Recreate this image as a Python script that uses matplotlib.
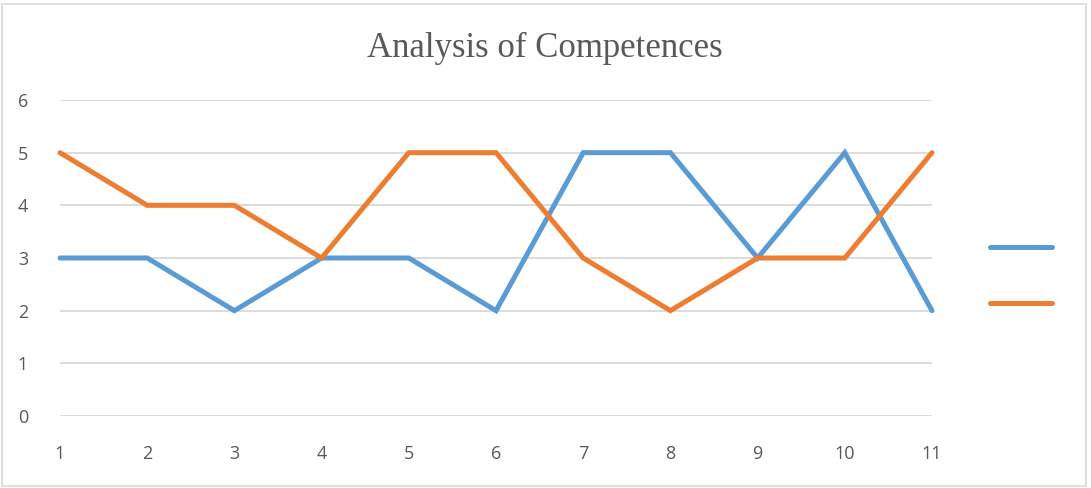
import matplotlib.pyplot as plt
from matplotlib.lines import Line2D
from matplotlib.patches import Rectangle

# data
x = [1, 2, 3, 4, 5, 6, 7, 8, 9, 10, 11]
blue_vals = [3, 3, 2, 3, 3, 2, 5, 5, 3, 5, 2]
orange_vals = [5, 4, 4, 3, 5, 5, 3, 2, 3, 3, 5]
yticks = [0, 1, 2, 3, 4, 5, 6]

blue = '#5B9BD5'
orange = '#ED7D31'
grey_text = '#595959'

fig = plt.figure(figsize=(10.91, 4.88), dpi=100)
ax = fig.add_axes([60 / 1091, 1 - 416 / 488, 872 / 1091, 316 / 488])

ax.plot(x, blue_vals, color=blue, lw=3.6, solid_capstyle='round', solid_joinstyle='miter',
        zorder=3, clip_on=False)
ax.plot(x, orange_vals, color=orange, lw=3.6, solid_capstyle='round', solid_joinstyle='miter',
        zorder=3, clip_on=False)

ax.set_xlim(1, 11)
ax.set_ylim(0, 6)
ax.set_xticks(x)
ax.set_yticks(yticks)
ax.grid(axis='y', color='#D9D9D9', lw=1.3)
ax.set_axisbelow(True)
for s in ax.spines.values():
    s.set_visible(False)
ax.tick_params(length=0, labelsize=13, labelcolor=grey_text)
ax.tick_params(axis='x', pad=21)
ax.tick_params(axis='y', pad=23)
for lab in ax.get_xticklabels() + ax.get_yticklabels():
    lab.set_family('Open Sans')

fig.text(545 / 1091, 1 - 48 / 488, 'Analysis of Competences', ha='center', va='center',
         fontsize=25, color=grey_text, family='Liberation Serif')

# legend without labels
handles = [Line2D([0], [0], color=blue, lw=3.6, solid_capstyle='round'),
           Line2D([0], [0], color=orange, lw=3.6, solid_capstyle='round')]
fig.legend(handles, ['', ''], loc='center', bbox_to_anchor=(1021 / 1091, 1 - 276 / 488),
           frameon=False, fontsize=12, handlelength=3.7, labelspacing=2.3, handletextpad=0)

# outer border
fig.patches.append(Rectangle((2 / 1091, 2 / 488), 1084 / 1091, 482 / 488, transform=fig.transFigure,
                             fill=False, edgecolor='#D9D9D9', lw=1.2))

fig.savefig('out.png', dpi=100)
